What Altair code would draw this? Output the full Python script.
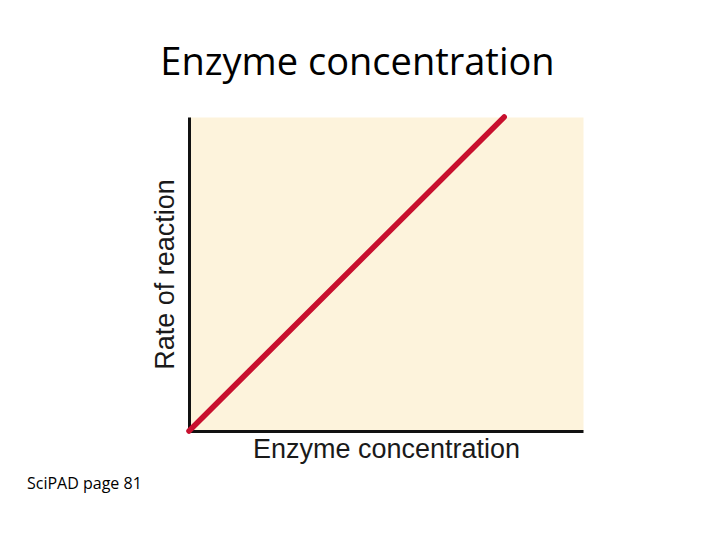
import altair as alt
import pandas as pd

# data
line_x = [0, 8]
line_y = [0, 10]
x_domain = [0, 10]
y_domain = [0, 10]
title_text = "Enzyme concentration"
x_title = "Enzyme concentration"
y_title = "Rate of reaction"
footer_text = "SciPAD page 81"

df = pd.DataFrame({"x": line_x, "y": line_y})
one = pd.DataFrame({"t": [0]})

axis_style = dict(
    labels=False, ticks=False, grid=False,
    domainColor="#111111", domainWidth=3,
    titleFont="Liberation Sans", titleFontSize=27, titleFontWeight="normal",
    titleColor="#1a1a1a",
)

line = alt.Chart(df).mark_line(color="#c8102e", strokeWidth=5.5, strokeCap="round").encode(
    x=alt.X("x:Q", scale=alt.Scale(domain=x_domain, nice=False, zero=True),
            axis=alt.Axis(title=x_title, titlePadding=5, **axis_style)),
    y=alt.Y("y:Q", scale=alt.Scale(domain=y_domain, nice=False, zero=True),
            axis=alt.Axis(title=y_title, titlePadding=10, **axis_style)),
)

title = alt.Chart(one).mark_text(
    text=title_text, font="Open Sans", fontSize=38, align="center",
    baseline="alphabetic", color="#000000"
).encode(x=alt.value(168.5), y=alt.value(-42))

footer = alt.Chart(one).mark_text(
    text=footer_text, font="Open Sans", fontSize=16, align="left",
    baseline="alphabetic", color="#000000"
).encode(x=alt.value(-162), y=alt.value(372))

chart = alt.layer(line, title, footer).properties(
    width=394, height=314,
    autosize=alt.AutoSizeParams(type="none"),
    padding={"left": 181, "top": 109, "right": 120, "bottom": 100},
).configure_view(fill="#fdf3dc", stroke="transparent")

chart.save("out.html", embed_options={"renderer": "svg", "actions": False})
